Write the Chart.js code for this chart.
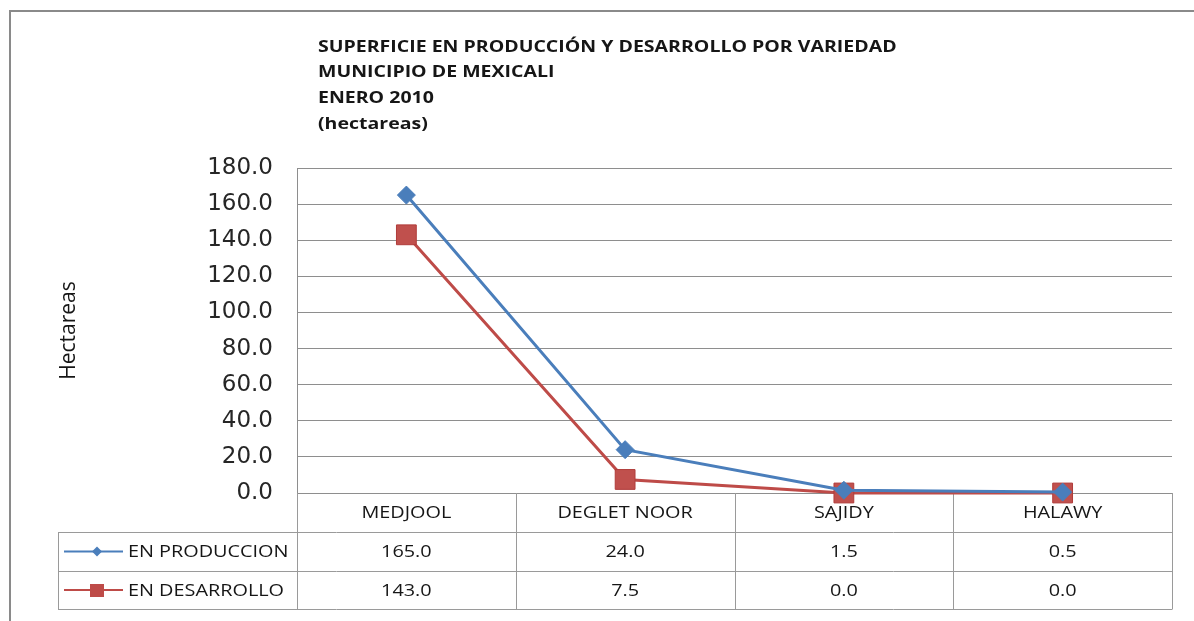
<!DOCTYPE html>
<html>
<head>
<meta charset="utf-8">
<script src="https://cdn.jsdelivr.net/npm/chart.js@4.4.1/dist/chart.umd.min.js"></script>
<style>
  html, body { margin: 0; padding: 0; background: #ffffff; }
  #wrap { position: relative; width: 1194px; height: 621px; }
</style>
</head>
<body>
<div id="wrap"><canvas id="c" width="1194" height="621"></canvas></div>
<script>
const categories = ['MEDJOOL', 'DEGLET NOOR', 'SAJIDY', 'HALAWY'];
const enProduccion = [165.0, 24.0, 1.5, 0.5];
const enDesarrollo = [143.0, 7.5, 0.0, 0.0];
const seriesNames = ['EN PRODUCCION', 'EN DESARROLLO'];
const titleLines = [
  'SUPERFICIE EN PRODUCCIÓN Y DESARROLLO POR VARIEDAD',
  'MUNICIPIO DE MEXICALI',
  'ENERO 2010',
  '(hectareas)'
];
const yAxisTitle = 'Hectareas';
const yMin = 0, yMax = 180, yStep = 20;

const FONT = '"Open Sans", "DejaVu Sans", sans-serif';
const TICK_FONT = '"DejaVu Sans", sans-serif';
const BLUE = '#4a7ebb';
const RED = '#be4b48';
const GRID = '#8e8e8e';
const TABLE_LINE = '#9a9a9a';
const TEXT = '#161616';
const SX = 1.24; // horizontal stretch of the original picture's text

function stretchedText(ctx, text, x, y, align, font, sx) {
  ctx.save();
  ctx.font = font;
  ctx.textAlign = align;
  ctx.textBaseline = 'middle';
  ctx.translate(x, y);
  ctx.scale(sx, 1);
  ctx.fillText(text, 0, 0);
  ctx.restore();
}

const decor = {
  id: 'decor',
  beforeDatasetsDraw(chart) {
    const ctx = chart.ctx;
    const area = chart.chartArea;
    const x = chart.scales.x;
    const n = categories.length;
    const colW = (area.right - area.left) / n;
    const rowTop = area.bottom;
    const rows = [rowTop, rowTop + 39, rowTop + 78, rowTop + 116];
    const legendLeft = 58;
    ctx.save();
    // outer frame
    ctx.strokeStyle = '#8a8a8a';
    ctx.lineWidth = 2;
    ctx.beginPath();
    ctx.moveTo(10, 621);
    ctx.lineTo(10, 11);
    ctx.lineTo(1194, 11);
    ctx.stroke();

    // table grid
    ctx.strokeStyle = TABLE_LINE;
    ctx.lineWidth = 1;
    ctx.beginPath();
    ctx.moveTo(legendLeft, rows[1] + 0.5); ctx.lineTo(area.right, rows[1] + 0.5);
    ctx.moveTo(legendLeft, rows[2] + 0.5); ctx.lineTo(area.right, rows[2] + 0.5);
    ctx.moveTo(legendLeft, rows[3] + 0.5); ctx.lineTo(area.right, rows[3] + 0.5);
    for (let i = 0; i <= n; i++) {
      const vx = Math.round(area.left + i * colW) + 0.5;
      ctx.moveTo(vx, rows[0]); ctx.lineTo(vx, rows[3] + 0.5);
    }
    ctx.moveTo(legendLeft + 0.5, rows[1]); ctx.lineTo(legendLeft + 0.5, rows[3] + 0.5);
    ctx.stroke();

    ctx.fillStyle = TEXT;
    // category labels
    categories.forEach((c, i) => {
      stretchedText(ctx, c, x.getPixelForValue(i), (rows[0] + rows[1]) / 2 + 1, 'center', '16px ' + FONT, SX);
    });
    // values
    const series = [enProduccion, enDesarrollo];
    series.forEach((vals, r) => {
      const cy = (rows[r + 1] + rows[r + 2]) / 2 + 1;
      vals.forEach((v, i) => {
        stretchedText(ctx, v.toFixed(1), x.getPixelForValue(i), cy, 'center', '16px ' + FONT, SX);
      });
    });
    // legend keys
    const colors = [BLUE, RED];
    series.forEach((vals, r) => {
      const cy = (rows[r + 1] + rows[r + 2]) / 2;
      ctx.strokeStyle = colors[r];
      ctx.lineWidth = 2;
      ctx.beginPath();
      ctx.moveTo(64, cy); ctx.lineTo(123, cy);
      ctx.stroke();
      ctx.fillStyle = colors[r];
      if (r === 0) {
        ctx.beginPath();
        ctx.moveTo(97, cy - 5); ctx.lineTo(102, cy); ctx.lineTo(97, cy + 5); ctx.lineTo(92, cy);
        ctx.closePath(); ctx.fill();
      } else {
        ctx.fillRect(90, cy - 6, 14, 13);
      }
      ctx.fillStyle = TEXT;
      stretchedText(ctx, seriesNames[r], 128, cy + 1, 'left', '16px ' + FONT, SX);
    });

    // title
    const ty = [47, 72, 98, 124];
    titleLines.forEach((t, i) => stretchedText(ctx, t, 318, ty[i], 'left', 'bold 16px ' + FONT, 1.22));

    // y-axis title
    ctx.save();
    ctx.translate(69, (area.top + area.bottom) / 2);
    ctx.rotate(-Math.PI / 2);
    ctx.textAlign = 'center';
    ctx.textBaseline = 'middle';
    ctx.font = '21px ' + FONT;
    ctx.fillText(yAxisTitle, 0, 0);
    ctx.restore();

    ctx.restore();
  }
};

new Chart(document.getElementById('c'), {
  type: 'line',
  data: {
    labels: categories,
    datasets: [
      {
        label: seriesNames[0],
        data: enProduccion,
        borderColor: BLUE,
        backgroundColor: BLUE,
        borderWidth: 3,
        pointStyle: 'rectRot',
        pointRadius: 9,
        pointBorderWidth: 1,
        pointBorderColor: BLUE,
        pointBackgroundColor: BLUE,
        tension: 0,
        clip: false
      },
      {
        label: seriesNames[1],
        data: enDesarrollo,
        borderColor: RED,
        backgroundColor: RED,
        borderWidth: 3,
        pointStyle: 'rect',
        pointRadius: 14,
        pointBorderWidth: 1,
        pointBorderColor: '#b03c3a',
        pointBackgroundColor: '#c0504d',
        tension: 0,
        clip: false
      }
    ]
  },
  options: {
    responsive: false,
    animation: false,
    devicePixelRatio: 1,
    layout: { padding: { left: 40, top: 168, right: 22, bottom: 128 } },
    plugins: {
      legend: { display: false },
      title: { display: false },
      tooltip: { enabled: false }
    },
    scales: {
      x: {
        display: false,
        offset: true
      },
      y: {
        min: yMin,
        max: yMax,
        afterFit(scale) { scale.width = 257; },
        ticks: {
          stepSize: yStep,
          padding: 24,
          color: '#262626',
          font: { family: TICK_FONT, size: 23 },
          callback: (v) => Number(v).toFixed(1)
        },
        grid: { color: GRID, lineWidth: 1, drawTicks: false },
        border: { display: true, color: GRID, width: 1 }
      }
    }
  },
  plugins: [decor]
});
</script>
</body>
</html>
